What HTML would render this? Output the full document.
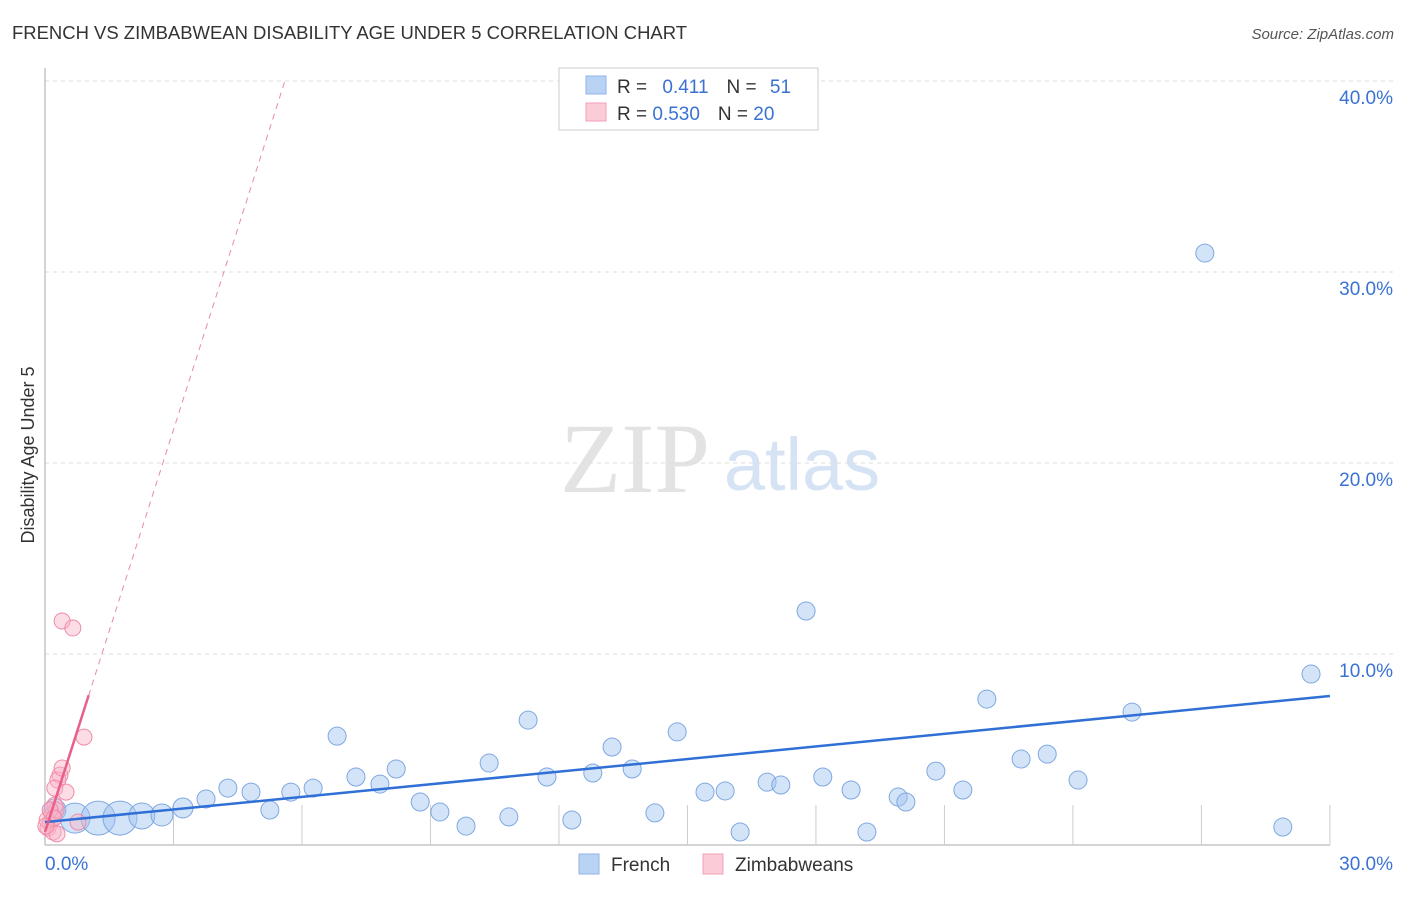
<!DOCTYPE html>
<html><head><meta charset="utf-8"><style>
body{margin:0;background:#fff;font-family:"Liberation Sans",sans-serif}
</style></head><body>
<svg id="chart" width="1406" height="892" xmlns="http://www.w3.org/2000/svg" font-family="Liberation Sans, sans-serif">
<text x="12" y="39" font-size="18" fill="#333" textLength="675" lengthAdjust="spacingAndGlyphs">FRENCH VS ZIMBABWEAN DISABILITY AGE UNDER 5 CORRELATION CHART</text>
<text x="1394" y="39" font-size="15" fill="#555" text-anchor="end" font-style="italic">Source: ZipAtlas.com</text>
<text transform="translate(34,455) rotate(-90)" font-size="18" fill="#333" text-anchor="middle">Disability Age Under 5</text>
<g>
<text x="635" y="492" font-size="100" fill="#e3e3e3" font-family="Liberation Serif, serif" text-anchor="middle">ZIP</text>
<text x="802" y="490" font-size="74" fill="#d5e3f5" text-anchor="middle">atlas</text>
</g>
<g id="grid"></g>
<g id="marks"></g>
<g>
<rect x="559" y="68" width="259" height="62" fill="#fff" stroke="#ccc"/>
<rect x="586" y="76" width="20" height="18" fill="#b9d3f5" stroke="#8fb3e8"/>
<rect x="586" y="103" width="20" height="18" fill="#fbcbd8" stroke="#f0a0b8"/>
<text x="617" y="93" font-size="19" fill="#333">R = <tspan fill="#3a72d4" dx="10">0.411</tspan><tspan fill="#333" dx="18">N = </tspan><tspan fill="#3a72d4" dx="8">51</tspan></text>
<text x="617" y="120" font-size="19" fill="#333">R = <tspan fill="#3a72d4">0.530</tspan><tspan fill="#333" dx="18">N = </tspan><tspan fill="#3a72d4">20</tspan></text>
</g>
<g>
<rect x="579" y="854" width="20" height="20" fill="#b9d3f5" stroke="#8fb3e8"/>
<text x="611" y="871" font-size="19" fill="#333">French</text>
<rect x="703" y="854" width="20" height="20" fill="#fbcbd8" stroke="#f0a0b8"/>
<text x="735" y="871" font-size="19" fill="#333">Zimbabweans</text>
</g>
</svg>
<script>
const yTicks=[10,20,30,40];
const yTickLabels=["10.0%","20.0%","30.0%","40.0%"];
const xTickLabels=["0.0%","30.0%"];
const frenchX=[0.23,0.70,1.24,1.75,2.26,2.73,3.22,3.76,4.27,4.81,5.25,5.74,6.26,6.82,7.26,7.82,8.20,8.76,9.22,9.83,10.37,10.83,11.28,11.72,12.30,12.79,13.24,13.71,14.24,14.76,15.41,15.88,16.23,16.86,17.18,17.77,18.16,18.82,19.19,19.92,20.10,20.80,21.43,21.99,22.79,23.40,24.12,25.38,27.08,28.90,29.56];
const frenchY=[1.83,1.41,1.41,1.41,1.52,1.57,1.94,2.41,2.98,2.77,1.83,2.77,2.98,5.70,3.56,3.19,3.98,2.25,1.73,0.99,4.29,1.47,6.54,3.56,1.31,3.77,5.13,3.98,1.68,5.92,2.77,2.83,0.68,3.29,3.14,12.25,3.56,2.88,0.68,2.51,2.25,3.87,2.88,7.64,4.50,4.76,3.40,6.96,30.99,0.94,8.95];
const frenchR=[11,15,17,17,13,11,10,9,9,9,9,9,9,9,9,9,9,9,9,9,9,9,9,9,9,9,9,9,9,9,9,9,9,9,9,9,9,9,9,9,9,9,9,9,9,9,9,9,9,9,9];
const zimX=[0.23,0.16,0.12,0.07,0.19,0.28,0.05,0.26,0.35,0.30,0.40,0.23,0.49,0.40,0.65,0.91,0.77,0.12,0.21,0.02];
const zimY=[2.09,1.57,1.15,0.89,0.68,0.58,1.31,1.83,3.66,3.40,4.03,2.98,2.77,11.73,11.36,5.65,1.20,1.83,1.41,0.99];
const frenchFit=[1.2,7.8];
const zimFit=[0.68,7.02];
const X=v=>45+v*42.83, Y=v=>845-v*19.1;
const NS="http://www.w3.org/2000/svg";
function mk(p,t,a){const e=document.createElementNS(NS,t);for(const k in a)e.setAttribute(k,a[k]);p.appendChild(e);return e;}
const g=document.getElementById('grid'),m=document.getElementById('marks');
yTicks.forEach((t,i)=>{
 const l=mk(g,'line',{x1:45,x2:1394,y1:Y(t),y2:Y(t),stroke:'#ddd','stroke-dasharray':'4,4'});
 
 
 const tx=mk(g,'text',{x:1393,y:Y(t)+23,'font-size':19,fill:'#3a72d4','text-anchor':'end'});tx.textContent=yTickLabels[i];
 
 
});
const ax=mk(g,'line',{x1:45,x2:45,y1:68,y2:845,stroke:'#aaa'});


const bx=mk(g,'line',{x1:45,x2:1330,y1:845,y2:845,stroke:'#aaa'});


for(let i=1;i<=10;i++){const t=mk(g,'line',{x1:X(i*3),x2:X(i*3),y1:805,y2:845,stroke:'#ccc'});
 
 }
[[0,'start',45],[30,'end',1393]].forEach((d,i)=>{const t=mk(g,'text',{x:d[2],y:870,'font-size':19,fill:'#3a72d4','text-anchor':d[1]});t.textContent=xTickLabels[i];
 
 });
frenchX.forEach((x,i)=>{const c=mk(m,'circle',{cx:X(x),cy:Y(frenchY[i]),r:frenchR[i],fill:'rgba(160,195,240,0.45)',stroke:'#7fa8e0','stroke-width':1});
 
 });
zimX.forEach((x,i)=>{const c=mk(m,'circle',{cx:X(x),cy:Y(zimY[i]),r:8,fill:'rgba(248,180,200,0.45)',stroke:'#f08aa8','stroke-width':1});
 
 });
const fl=mk(m,'line',{x1:X(0),y1:Y(frenchFit[0]),x2:X(30),y2:Y(frenchFit[1]),stroke:'#2f6fd6','stroke-width':2.5});


const zd=mk(m,'line',{x1:X(0),y1:Y(zimFit[0]),x2:X((40-zimFit[0])/zimFit[1]),y2:Y(40),stroke:'#e88aa5','stroke-width':1,'stroke-dasharray':'6,5'});


const zl=mk(m,'line',{x1:X(0),y1:Y(zimFit[0]),x2:X(1.02),y2:Y(zimFit[0]+zimFit[1]*1.02),stroke:'#e8608a','stroke-width':2.5});


</script>
</body></html>
